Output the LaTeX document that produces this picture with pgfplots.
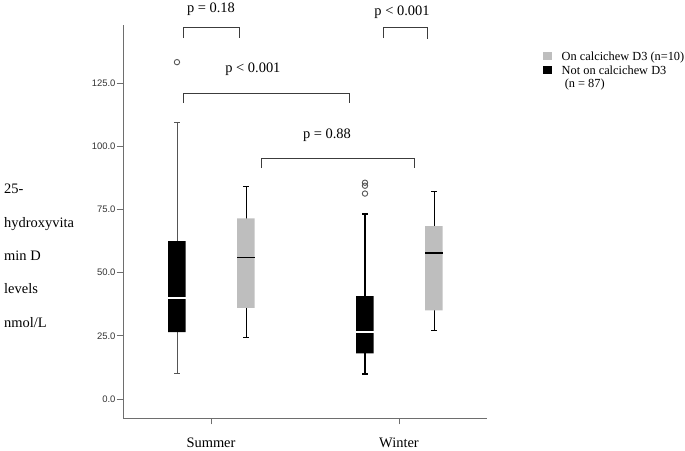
\documentclass[border=0pt]{standalone}
\usepackage{fontspec}
\setmainfont{Liberation Serif}
\newfontfamily\sansfont{Liberation Sans}
\usepackage{pgfplots}
\pgfplotsset{compat=1.18}
\definecolor{boxgray}{HTML}{BEBEBE}
\definecolor{axisgray}{HTML}{6E6E6E}
\definecolor{outgray}{HTML}{555555}
\definecolor{brgray}{HTML}{3C3C3C}
\begin{document}
\begin{tikzpicture}
\path[use as bounding box] (0bp,0bp) rectangle (685bp,451bp);
% y-axis title (five lines as in the reference)
\begin{scope}[every node/.style={anchor=base west, inner sep=0pt, font=\fontsize{14.5}{16}\selectfont}]
\node at (4bp,257bp) {25-};
\node at (4bp,223.5bp) {hydroxyvita};
\node at (4bp,190.5bp) {min D};
\node at (4bp,157bp) {levels};
\node at (4bp,123.7bp) {nmol/L};
\end{scope}
\begin{axis}[
  at={(123bp,33bp)}, anchor=south west,
  scale only axis, width=364bp, height=393bp,
  xmin=0.532, xmax=2.468, ymin=-7.5, ymax=148,
  axis x line*=bottom, axis y line*=left,
  axis line style={axisgray, line width=0.8pt},
  xtick={1,2}, xticklabels={Summer,Winter},
  ytick={0,25,50,75,100,125},
  tick align=outside, major tick length=6.5bp,
  tick style={axisgray, line width=0.8pt},
  xticklabel style={font=\fontsize{14.5}{16}\selectfont, yshift=-10bp},
  yticklabel style={font=\sansfont\fontsize{9.5}{10}\selectfont, text=black!80, inner sep=0.8bp},
  yticklabel={\pgfmathprintnumber[fixed, fixed zerofill, precision=1, assume math mode=true]{\tick}},
  clip=false,
  legend style={at={(axis description cs:1.1547,0.9343)}, anchor=north west,
    draw=none, fill=none, inner sep=0pt, outer sep=0pt, row sep=0pt, column sep=0pt,
    font=\fontsize{12.4}{14}\selectfont,
    cells={anchor=base west},
    nodes={inner sep=0pt, text height=9.5bp, text depth=4.3bp}},
  legend image code/.code={\fill[#1, draw=none] (0bp,0bp) rectangle (9bp,8.3bp); \path[draw=none, fill=none] (0bp,0bp) -- (18.4bp,0bp);},
  every axis plot/.append style={forget plot},
]
% ---- Summer, not on calcichew (black): whisker 10.3-109.6, box 26.5-62.5, median 40.0
\addplot[outgray, line width=0.9bp] coordinates {(0.819,10.3) (0.819,109.6)};
\addplot[outgray, line width=0.9bp] coordinates {(0.804,10.3) (0.834,10.3)};
\addplot[outgray, line width=0.9bp] coordinates {(0.804,109.6) (0.834,109.6)};
\addplot[fill=black, draw=none] coordinates {(0.7725,26.5) (0.8655,26.5) (0.8655,62.5) (0.7725,62.5) (0.7725,26.5)};
\addplot[white, line width=1.6bp] coordinates {(0.7725,40.0) (0.8655,40.0)};
% ---- Summer, on calcichew (gray): whisker 24.4-84.0, box 36.1-71.5, median 56.0
\addplot[black, line width=0.9bp] coordinates {(1.186,24.4) (1.186,84.0)};
\addplot[black, line width=0.9bp] coordinates {(1.171,24.4) (1.201,24.4)};
\addplot[black, line width=0.9bp] coordinates {(1.171,84.0) (1.201,84.0)};
\addplot[fill=boxgray, draw=none] coordinates {(1.1395,36.1) (1.2325,36.1) (1.2325,71.5) (1.1395,71.5) (1.1395,36.1)};
\addplot[black, line width=1.6bp] coordinates {(1.1395,56.0) (1.2325,56.0)};
% ---- Winter, not on calcichew (black): whisker 9.9-73.2, box 18.1-40.7, median 26.6
\addplot[black, line width=1.1bp] coordinates {(1.819,9.9) (1.819,73.2)};
\addplot[black, line width=1.1bp] coordinates {(1.804,9.9) (1.834,9.9)};
\addplot[black, line width=1.1bp] coordinates {(1.804,73.2) (1.834,73.2)};
\addplot[fill=black, draw=none] coordinates {(1.7725,18.1) (1.8655,18.1) (1.8655,40.7) (1.7725,40.7) (1.7725,18.1)};
\addplot[white, line width=1.6bp] coordinates {(1.7725,26.6) (1.8655,26.6)};
% ---- Winter, on calcichew (gray): whisker 27.2-82.0, box 35.1-68.4, median 57.9
\addplot[black, line width=0.9bp] coordinates {(2.186,27.2) (2.186,82.0)};
\addplot[black, line width=0.9bp] coordinates {(2.171,27.2) (2.201,27.2)};
\addplot[black, line width=0.9bp] coordinates {(2.171,82.0) (2.201,82.0)};
\addplot[fill=boxgray, draw=none] coordinates {(2.1395,35.1) (2.2325,35.1) (2.2325,68.4) (2.1395,68.4) (2.1395,35.1)};
\addplot[black, line width=1.6bp] coordinates {(2.1395,57.9) (2.2325,57.9)};
% outliers
\addplot[only marks, mark=o, mark size=2.7bp, mark options={draw=outgray, line width=0.9bp}]
  coordinates {(0.819,133.3) (1.819,85.6) (1.819,84.4) (1.819,81.3)};
% significance brackets
\addplot[brgray, line width=0.9bp] coordinates {(0.856,142.8) (0.856,147.2) (1.149,147.2) (1.149,142.8)};
\addplot[brgray, line width=0.9bp] coordinates {(1.915,142.8) (1.915,147.2) (2.149,147.2) (2.149,142.4)};
\addplot[brgray, line width=0.9bp] coordinates {(0.856,117.1) (0.856,121.1) (1.734,121.1) (1.734,117.1)};
\addplot[brgray, line width=0.9bp] coordinates {(1.266,91.4) (1.266,95.3) (2.080,95.3) (2.080,91.4)};
\node[font=\fontsize{14.5}{16}\selectfont, inner sep=0pt] at (axis cs:1.0,154.3) {p = 0.18};
\node[font=\fontsize{14.5}{16}\selectfont, inner sep=0pt] at (axis cs:2.016,153.1) {p < 0.001};
\node[font=\fontsize{14.5}{16}\selectfont, inner sep=0pt] at (axis cs:1.223,130.5) {p < 0.001};
\node[font=\fontsize{14.5}{16}\selectfont, inner sep=0pt] at (axis cs:1.617,104.4) {p = 0.88};
% legend
\addlegendimage{fill=boxgray}
\addlegendentry{On calcichew D3 (n=10)}
\addlegendimage{fill=black}
\addlegendentry{Not on calcichew D3}
\addlegendimage{empty legend}
\addlegendentry{\ (n = 87)}
\end{axis}
\end{tikzpicture}
\end{document}
